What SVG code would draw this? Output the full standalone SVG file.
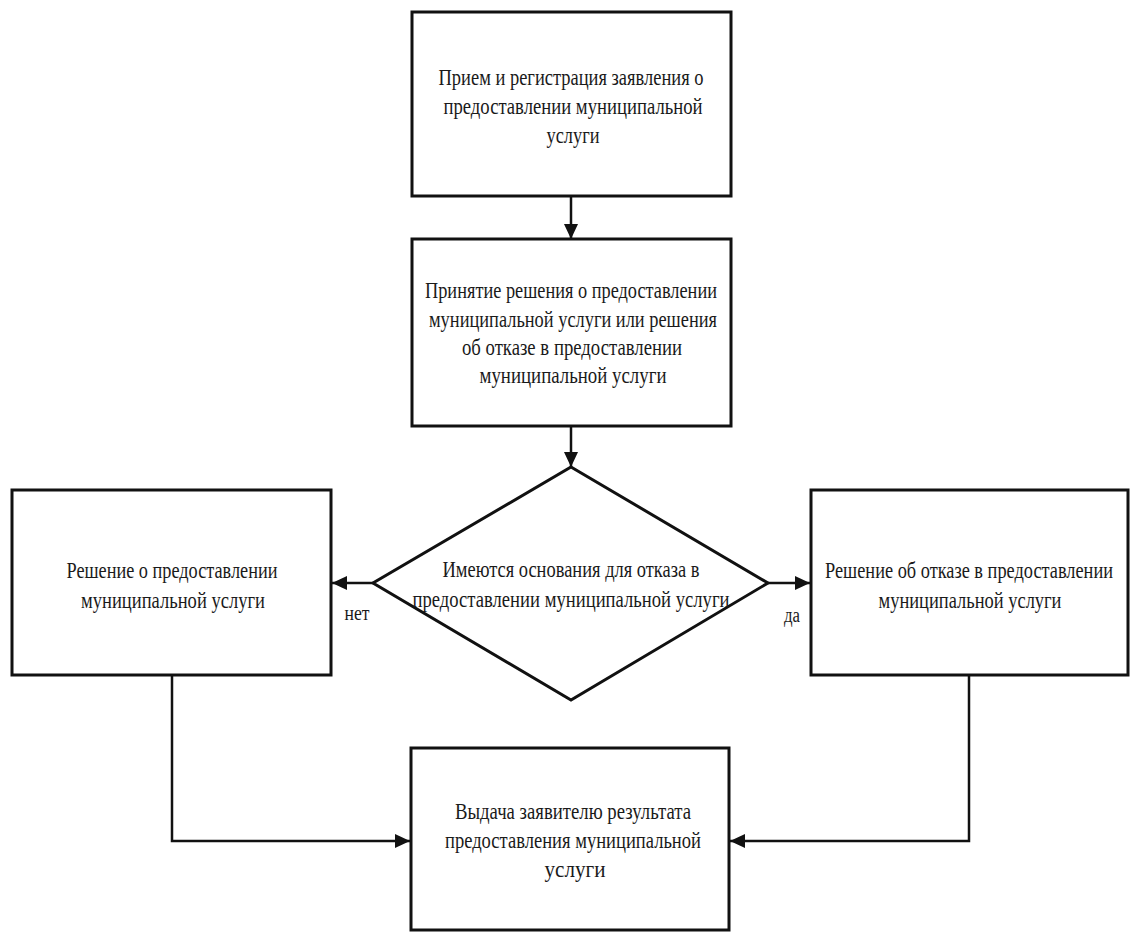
<svg xmlns="http://www.w3.org/2000/svg" width="1130" height="932" viewBox="0 0 1130 932">
<style>
.box{fill:#fff;stroke:#111;stroke-width:3}
.con{fill:none;stroke:#111;stroke-width:2.5}
.t{font-family:"Liberation Serif","DejaVu Serif","Times New Roman",serif;font-size:23px;fill:#1a1a1a;text-anchor:middle}
.lbl{font-size:20px}
</style>
<defs>
<marker id="arr" markerUnits="userSpaceOnUse" markerWidth="16" markerHeight="16" refX="15" refY="7" orient="auto">
<path d="M0,0 L15,7 L0,14 z" fill="#111"/>
</marker>
</defs>
<rect width="1130" height="932" fill="#fff"/>
<g id="connectors">
<path class="con" d="M571,196 L571,239" marker-end="url(#arr)"/>
<path class="con" d="M571,426 L571,467" marker-end="url(#arr)"/>
<path class="con" d="M373,583 L332,583" marker-end="url(#arr)"/>
<path class="con" d="M768,583 L810,583" marker-end="url(#arr)"/>
<path class="con" d="M172,675 L172,841 L410,841" marker-end="url(#arr)"/>
<path class="con" d="M969,675 L969,841 L730,841" marker-end="url(#arr)"/>
<text class="t lbl" x="357" y="620" textLength="25" lengthAdjust="spacingAndGlyphs">нет</text>
<text class="t lbl" x="792" y="622" textLength="16" lengthAdjust="spacingAndGlyphs">да</text>
</g>
<g id="n1">
<rect class="box" x="412" y="12" width="319" height="184"/>
<text class="t" x="571" y="85" textLength="265" lengthAdjust="spacingAndGlyphs">Прием и регистрация заявления о</text>
<text class="t" x="573" y="114" textLength="259" lengthAdjust="spacingAndGlyphs">предоставлении муниципальной</text>
<text class="t" x="573" y="143" textLength="53" lengthAdjust="spacingAndGlyphs">услуги</text>
</g>
<g id="n2">
<rect class="box" x="412" y="239" width="319" height="187"/>
<text class="t" x="571" y="298" textLength="292" lengthAdjust="spacingAndGlyphs">Принятие решения о предоставлении</text>
<text class="t" x="573" y="327" textLength="288" lengthAdjust="spacingAndGlyphs">муниципальной услуги или решения</text>
<text class="t" x="572" y="355" textLength="220" lengthAdjust="spacingAndGlyphs">об отказе в предоставлении</text>
<text class="t" x="573" y="383" textLength="187" lengthAdjust="spacingAndGlyphs">муниципальной услуги</text>
</g>
<g id="n3">
<polygon class="box" points="571,467 768,583 571,700 373,583"/>
<text class="t" x="571" y="577" textLength="257" lengthAdjust="spacingAndGlyphs">Имеются основания для отказа в</text>
<text class="t" x="571" y="607" textLength="317" lengthAdjust="spacingAndGlyphs">предоставлении муниципальной услуги</text>
</g>
<g id="n4">
<rect class="box" x="12" y="490" width="319" height="185"/>
<text class="t" x="172" y="578" textLength="211" lengthAdjust="spacingAndGlyphs">Решение о предоставлении</text>
<text class="t" x="173" y="608" textLength="184" lengthAdjust="spacingAndGlyphs">муниципальной услуги</text>
</g>
<g id="n5">
<rect class="box" x="811" y="490" width="317" height="185"/>
<text class="t" x="969" y="578" textLength="288" lengthAdjust="spacingAndGlyphs">Решение об отказе в предоставлении</text>
<text class="t" x="970" y="608" textLength="183" lengthAdjust="spacingAndGlyphs">муниципальной услуги</text>
</g>
<g id="n6">
<rect class="box" x="411" y="748" width="318" height="182"/>
<text class="t" x="573" y="819" textLength="236" lengthAdjust="spacingAndGlyphs">Выдача заявителю результата</text>
<text class="t" x="573" y="848" textLength="256" lengthAdjust="spacingAndGlyphs">предоставления муниципальной</text>
<text class="t" x="575" y="877" textLength="61" lengthAdjust="spacingAndGlyphs">услуги</text>
</g>
</svg>
